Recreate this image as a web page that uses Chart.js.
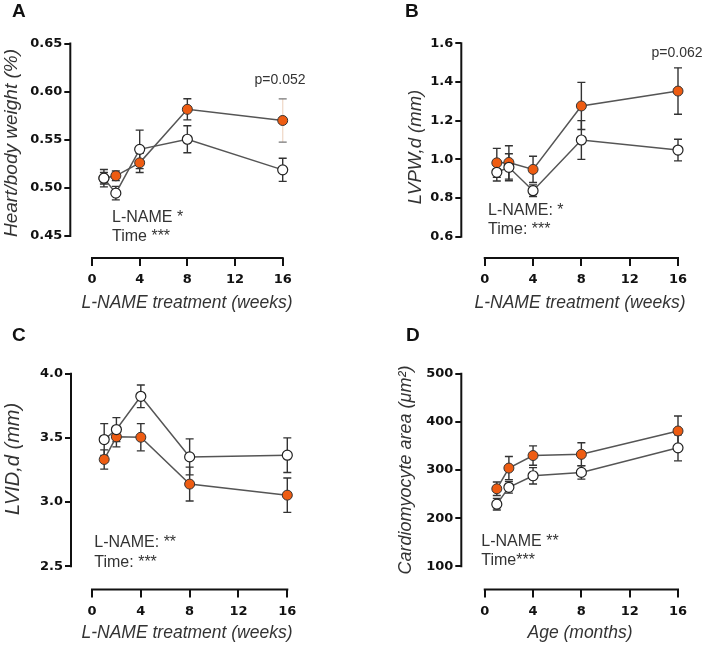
<!DOCTYPE html>
<html>
<head>
<meta charset="utf-8">
<script src="https://cdn.jsdelivr.net/npm/chart.js@4.4.0/dist/chart.umd.min.js"></script>
<style>
  body { margin: 0; background: #fff; }
  #wrap { position: relative; width: 706px; height: 647px; }
  canvas { position: absolute; }
</style>
</head>
<body>
<div id="wrap">
  <canvas id="cA" width="353" height="323" style="left:0;top:0"></canvas>
  <canvas id="cB" width="353" height="323" style="left:353px;top:0"></canvas>
  <canvas id="cC" width="353" height="324" style="left:0;top:323px"></canvas>
  <canvas id="cD" width="353" height="324" style="left:353px;top:323px"></canvas>
</div>
<script>
// time points (weeks / months) and x ticks
const weeks = [1, 2, 4, 8, 16];
const xTicks = [0, 4, 8, 12, 16];

// A - heart/body weight (%)
const hbwCtrl = [0.510, 0.4945, 0.540, 0.5505, 0.5187];
const hbwCtrlErr = [0.009, 0.007, 0.020, 0.014, 0.012];
const hbwLname = [0.510, 0.5125, 0.526, 0.5816, 0.570];
const hbwLnameErr = [0.006, 0.005, 0.010, 0.011, 0.0225];
const ticksA = [0.45, 0.50, 0.55, 0.60, 0.65];

// B - LVPW,d (mm)
const lvpwCtrl = [0.933, 0.959, 0.838, 1.10, 1.048];
const lvpwCtrlErr = [0.045, 0.07, 0.03, 0.10, 0.056];
const lvpwLname = [0.982, 0.984, 0.948, 1.276, 1.353];
const lvpwLnameErr = [0.075, 0.086, 0.068, 0.122, 0.12];
const ticksB = [0.6, 0.8, 1.0, 1.2, 1.4, 1.6];

// C - LVID,d (mm)
const lvidCtrl = [3.487, 3.565, 3.824, 3.352, 3.365];
const lvidCtrlErr = [0.124, 0.093, 0.088, 0.14, 0.135];
const lvidLname = [3.332, 3.508, 3.505, 3.14, 3.054];
const lvidLnameErr = [0.075, 0.078, 0.106, 0.132, 0.134];
const ticksC = [2.5, 3.0, 3.5, 4.0];

// D - cardiomyocyte area (um2)
const cmaCtrl = [229, 264, 288, 295, 346];
const cmaCtrlErr = [12, 12, 17, 14, 27];
const cmaLname = [261, 304, 330, 332.5, 381];
const cmaLnameErr = [14, 24, 20, 24, 31];
const ticksD = [100, 200, 300, 400, 500];

const orange = '#EE5C12';
const txt = '#333';

const panels = [
  { id: 'cA', letter: 'A', lx: 12, ly: 12, h: 323,
    area: { left: 70.3, right: 282.7, top: 43.5, bottom: 258 },
    xMin: -1.82, yMin: 0.4271, yMax: 0.65, yTicks: ticksA, dec: 2,
    ctrl: hbwCtrl, ctrlErr: hbwCtrlErr, lname: hbwLname, lnameErr: hbwLnameErr, faint: [4],
    yTitle: { text: 'Heart/body weight (%)', x: 12, y: 143, size: 19 },
    xTitle: { text: 'L-NAME treatment (weeks)', x: 187, y: 303 },
    notes: [{ t: 'L-NAME *', x: 112, y: 218 }, { t: 'Time ***', x: 112, y: 237 },
            { t: 'p=0.052', x: 280, y: 80, c: true }] },
  { id: 'cB', letter: 'B', lx: 52, ly: 12, h: 323,
    area: { left: 108.3, right: 325, top: 43.3, bottom: 258 },
    xMin: -1.94, yMin: 0.49, yMax: 1.6, yTicks: ticksB, dec: 1,
    ctrl: lvpwCtrl, ctrlErr: lvpwCtrlErr, lname: lvpwLname, lnameErr: lvpwLnameErr, faint: [],
    yTitle: { text: 'LVPW,d (mm)', x: 63, y: 147, size: 18.5 },
    xTitle: { text: 'L-NAME treatment (weeks)', x: 227, y: 303 },
    notes: [{ t: 'L-NAME: *', x: 135, y: 211 }, { t: 'Time: ***', x: 135, y: 229.5 },
            { t: 'p=0.062', x: 324, y: 53, c: true }] },
  { id: 'cC', letter: 'C', lx: 12, ly: 13, h: 324,
    area: { left: 71, right: 287.3, top: 50.7, bottom: 266.5 },
    xMin: -1.72, yMin: 2.319, yMax: 4.0, yTicks: ticksC, dec: 1,
    ctrl: lvidCtrl, ctrlErr: lvidCtrlErr, lname: lvidLname, lnameErr: lvidLnameErr, faint: [],
    yTitle: { text: 'LVID,d (mm)', x: 13.5, y: 136, size: 20 },
    xTitle: { text: 'L-NAME treatment (weeks)', x: 187, y: 310 },
    notes: [{ t: 'L-NAME: **', x: 94.3, y: 220 }, { t: 'Time: ***', x: 94.3, y: 239.3 }] },
  { id: 'cD', letter: 'D', lx: 53, ly: 13, h: 324,
    area: { left: 108.3, right: 325, top: 50.7, bottom: 266.5 },
    xMin: -1.94, yMin: 51.8, yMax: 500, yTicks: ticksD, dec: 0,
    ctrl: cmaCtrl, ctrlErr: cmaCtrlErr, lname: cmaLname, lnameErr: cmaLnameErr, faint: [],
    yTitle: { text: 'Cardiomyocyte area (\u03BCm\u00B2)', x: 53, y: 147, size: 18 },
    xTitle: { text: 'Age (months)', x: 227, y: 310 },
    notes: [{ t: 'L-NAME **', x: 128.3, y: 218.3 }, { t: 'Time***', x: 128.3, y: 237.3 }] }
];

const decor = {
  id: 'decor',
  beforeDatasetsDraw(chart) {
    const c = chart.ctx, xs = chart.scales.x, ys = chart.scales.y;
    const p = chart.options.plugins.decor.panel;
    const a = chart.chartArea;
    c.save();
    // detached axis lines
    c.strokeStyle = '#111';
    c.lineWidth = 2;
    c.beginPath();
    c.moveTo(xs.getPixelForValue(xTicks[0]) - 1, a.bottom);
    c.lineTo(xs.getPixelForValue(xTicks[xTicks.length - 1]) + 1, a.bottom);
    c.moveTo(a.left, ys.getPixelForValue(p.yTicks[0]) + 1);
    c.lineTo(a.left, ys.getPixelForValue(p.yTicks[p.yTicks.length - 1]) - 1);
    c.stroke();
    // error bars (SEM)
    chart.data.datasets.forEach(ds => {
      ds.err.forEach((e, i) => {
        const x = xs.getPixelForValue(ds.data[i].x);
        const y1 = ys.getPixelForValue(ds.data[i].y + e);
        const y2 = ys.getPixelForValue(ds.data[i].y - e);
        const faint = ds.faint.includes(i);
        c.lineWidth = 1.4;
        c.strokeStyle = faint ? '#f1dccd' : '#333';
        c.beginPath();
        c.moveTo(x, y1); c.lineTo(x, y2);
        c.stroke();
        c.strokeStyle = faint ? '#777' : '#333';
        c.beginPath();
        c.moveTo(x - 4, y1); c.lineTo(x + 4, y1);
        c.moveTo(x - 4, y2); c.lineTo(x + 4, y2);
        c.stroke();
      });
    });
    c.restore();
  },
  afterDraw(chart) {
    const c = chart.ctx;
    const p = chart.options.plugins.decor.panel;
    c.save();
    c.fillStyle = '#111';
    c.textBaseline = 'middle';
    c.textAlign = 'left';
    c.font = 'bold 19px "Liberation Sans", Arial, sans-serif';
    c.fillText(p.letter, p.lx, p.ly);
    c.fillStyle = txt;
    p.notes.forEach(n => {
      c.font = (n.c ? '14px' : '16px') + ' "Liberation Sans", Arial, sans-serif';
      c.textAlign = n.c ? 'center' : 'left';
      c.fillText(n.t, n.x, n.y);
    });
    c.textAlign = 'center';
    c.font = 'italic 17.5px "Liberation Sans", Arial, sans-serif';
    c.fillText(p.xTitle.text, p.xTitle.x, p.xTitle.y);
    c.translate(p.yTitle.x, p.yTitle.y);
    c.rotate(-Math.PI / 2);
    c.font = 'italic ' + p.yTitle.size + 'px "Liberation Sans", Arial, sans-serif';
    c.fillText(p.yTitle.text, 0, 0);
    c.restore();
  }
};

const tickFont = { family: 'DejaVu Sans', weight: 'bold', size: 13 };

panels.forEach(p => {
  const pts = vals => weeks.map((w, i) => ({ x: w, y: vals[i] }));
  new Chart(document.getElementById(p.id), {
    type: 'line',
    data: {
      datasets: [
        { label: 'Control', data: pts(p.ctrl), err: p.ctrlErr, faint: [],
          borderColor: '#555', borderWidth: 1.5, pointRadius: 5,
          pointBackgroundColor: '#fff', pointBorderColor: '#222', pointBorderWidth: 1.2, clip: false },
        { label: 'L-NAME', data: pts(p.lname), err: p.lnameErr, faint: p.faint,
          borderColor: '#555', borderWidth: 1.5, pointRadius: 5,
          pointBackgroundColor: orange, pointBorderColor: '#333', pointBorderWidth: 1, clip: false }
      ]
    },
    options: {
      responsive: false,
      animation: false,
      devicePixelRatio: 1,
      layout: { padding: { top: p.area.top, right: 353 - p.area.right, left: 0, bottom: 0 } },
      plugins: { legend: { display: false }, tooltip: { enabled: false }, decor: { panel: p } },
      scales: {
        x: {
          type: 'linear', min: p.xMin, max: 16,
          afterBuildTicks: s => { s.ticks = xTicks.map(v => ({ value: v })); },
          afterFit: s => { s.height = p.h - p.area.bottom; },
          grid: { display: true, drawOnChartArea: false, drawTicks: true, tickLength: 8, color: '#111', lineWidth: 2 },
          border: { display: false },
          ticks: { font: tickFont, color: '#111', padding: 6, maxRotation: 0 }
        },
        y: {
          type: 'linear', min: p.yMin, max: p.yMax,
          afterBuildTicks: s => { s.ticks = p.yTicks.map(v => ({ value: v })); },
          afterFit: s => { s.width = p.area.left; },
          grid: { display: true, drawOnChartArea: false, drawTicks: true, tickLength: 6, color: '#111', lineWidth: 2 },
          border: { display: false },
          ticks: { font: tickFont, color: '#111', padding: 2, callback: v => v.toFixed(p.dec) }
        }
      }
    },
    plugins: [decor]
  });
});
</script>
</body>
</html>
